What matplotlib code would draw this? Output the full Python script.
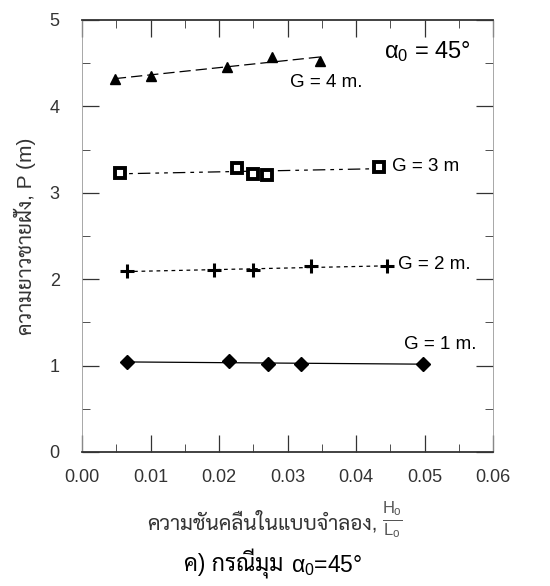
import numpy as np
import matplotlib
matplotlib.use("Agg")
import matplotlib.pyplot as plt
from matplotlib import font_manager as fm
from matplotlib.ticker import MultipleLocator

# pick a Thai-capable family that is installed
names = {f.name for f in fm.fontManager.ttflist}
thai = next(n for n in ['Sarabun', 'Noto Sans Thai', 'Noto Sans Thai Looped', 'Prompt',
                        'Kanit', 'Mitr', 'Trirong'] if n in names)
plt.rcParams['font.family'] = ['Liberation Sans', thai]
plt.rcParams['mathtext.fontset'] = 'custom'
plt.rcParams['mathtext.rm'] = 'Liberation Sans'
plt.rcParams['mathtext.it'] = 'Liberation Sans'

# data
x_g4 = [0.0048, 0.0100, 0.0212, 0.0277, 0.0347]
p_g4 = [4.32, 4.35, 4.46, 4.57, 4.53]
x_g3 = [0.0056, 0.0227, 0.0250, 0.0270, 0.0434]
p_g3 = [3.23, 3.29, 3.22, 3.21, 3.30]
x_g2 = [0.0065, 0.0192, 0.0250, 0.0335, 0.0445]
p_g2 = [2.09, 2.11, 2.11, 2.15, 2.15]
x_g1 = [0.0065, 0.0215, 0.0272, 0.0319, 0.0498]
p_g1 = [1.04, 1.05, 1.02, 1.02, 1.02]

fig = plt.figure(figsize=(5.5, 5.86), dpi=100)
ax = fig.add_axes([82/550, 1 - 452/586, 411/550, 432/586])

def fitline(x, p, ls, dashes=None):
    k, b = np.polyfit(x, p, 1)
    xx = np.array([min(x), max(x)])
    ln, = ax.plot(xx, k*xx + b, color='k', lw=0.9, ls=ls)
    if dashes:
        ln.set_dashes(dashes)

fitline(x_g4, p_g4, '--', (9, 4))
fitline(x_g3, p_g3, '--', (3, 4, 3, 4, 10, 4))
fitline(x_g2, p_g2, '--', (3, 3))
fitline(x_g1, p_g1, '-')

ax.plot(x_g4, p_g4, '^', color='k', ms=7, ls='none')
ax.plot(x_g3, p_g3, 's', mfc='white', mec='k', mew=2.8, ms=7.5, ls='none')
ax.plot(x_g2, p_g2, '+', color='k', mew=2.2, ms=10, ls='none')
ax.plot(x_g1, p_g1, 'D', color='k', ms=7, ls='none')

ax.set_xlim(0, 0.06)
ax.set_ylim(0, 5)
ax.xaxis.set_major_locator(MultipleLocator(0.01))
ax.xaxis.set_minor_locator(MultipleLocator(0.005))
ax.yaxis.set_major_locator(MultipleLocator(1))
ax.yaxis.set_minor_locator(MultipleLocator(0.5))
ax.xaxis.set_major_formatter(plt.FormatStrFormatter('%.2f'))
ax.tick_params(which='both', direction='in', top=True, right=True, labelsize=13, colors='#333333')
ax.tick_params(which='major', length=12, width=0.9)
ax.tick_params(which='minor', length=6, width=0.6)
ax.tick_params(axis='x', pad=12)
ax.tick_params(axis='y', pad=16)
for s in ['left', 'right']:
    ax.spines[s].set_linewidth(0.6)
    ax.spines[s].set_color('#999999')
for s in ['top', 'bottom']:
    ax.spines[s].set_linewidth(1.3)
    ax.spines[s].set_color('#333333')

ax.text(0.0441, 4.63, r'$\alpha_0$ = 45°', fontsize=17, ha='left', va='center')
ax.text(0.0304, 4.28, 'G = 4 m.', fontsize=13.5, ha='left', va='center')
ax.text(0.0452, 3.31, 'G = 3 m', fontsize=13.5, ha='left', va='center')
ax.text(0.0462, 2.17, 'G = 2 m.', fontsize=13.5, ha='left', va='center')
ax.text(0.0470, 1.24, 'G = 1 m.', fontsize=13.5, ha='left', va='center')

ax.set_ylabel('ความยาวชายฝั่ง, P (m)', fontsize=15, color='#333333', labelpad=10)
fig.text(378/550, 1 - 522/586, 'ความชันคลื่นในแบบจำลอง,', fontsize=15,
         ha='right', va='center', color='#333333')
fig.text(382/550, 1 - 520/586, r'$\frac{H_o}{L_o}$', fontsize=17,
         ha='left', va='center', color='#555555')
fig.text(283/550, 1 - 564/586, 'ค) กรณีมุม', fontsize=16.5,
         ha='right', va='center')
fig.text(291/550, 1 - 566/586, r'$\alpha_0$=45°', fontsize=16.5,
         ha='left', va='center')

fig.savefig('out.png', dpi=100)
